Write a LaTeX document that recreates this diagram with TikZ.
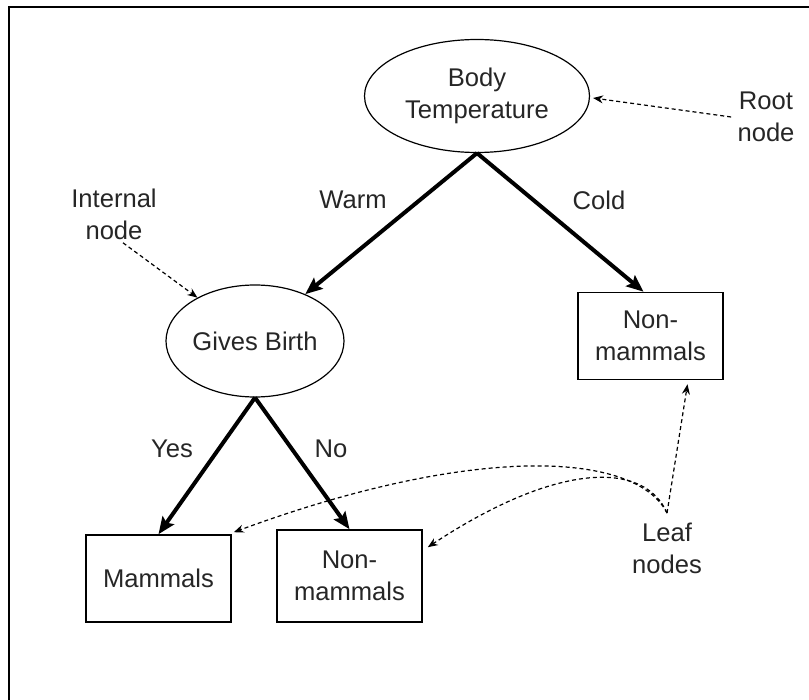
\documentclass[tikz,border=0pt]{standalone}
\usepackage{fontspec}
\setmainfont{Liberation Sans}
\usetikzlibrary{shapes.geometric,arrows.meta,calc}
\begin{document}
\begin{tikzpicture}[x=0.5pt,y=-0.5pt,
  every node/.style={font=\fontsize{12.8}{16}\selectfont, text=black!85, align=center, inner sep=0pt},
  decision/.style={ellipse, draw, line width=0.6pt},
  leafbox/.style={rectangle, draw, line width=0.8pt, minimum width=72.5pt},
  branch/.style={line width=2pt, -{Stealth[length=8.5pt,width=7pt,inset=1.5pt]}},
  pointer/.style={line width=0.6pt, dash pattern=on 2pt off 1.5pt, -{Stealth[length=5pt,width=4pt]}}
]
\useasboundingbox (0,0) rectangle (809,700);
% outer frame
\draw[line width=1pt] (9,720) -- (9,7) -- (840,7);

% tree nodes
\node[decision, minimum width=112.5pt, minimum height=56.5pt] (root) at (477,96) {Body\\Temperature};
\node[decision, minimum width=89pt, minimum height=56pt] (gb) at (255,341) {Gives Birth};
\node[leafbox, minimum height=43.5pt] (rbox) at (650.5,336) {Non-\\mammals};
\node[leafbox, minimum height=43.5pt] (mbox) at (158.5,578.5) {Mammals};
\node[leafbox, minimum height=46pt] (nbox) at (349.5,576) {Non-\\mammals};

% branch labels
\node (warm) at (353,200) {Warm};
\node (cold) at (599,200) {Cold};
\node (yes) at (172,449) {Yes};
\node (no) at (331,449) {No};

% annotations
\node (rootlbl) at (766,117) {Root\\node};
\node (intlbl) at (114,214) {Internal\\node};
\node (leaflbl) at (667,548) {Leaf\\nodes};
\coordinate (leafc) at (667,513);

% branches
\draw[branch] (root.south) -- (gb.43);
\draw[branch] (root.south) -- ($(rbox.north)+(-7,0)$);
\draw[branch] (gb.south) -- (mbox.north);
\draw[branch] (gb.south) -- (nbox.north);

% annotation pointers
\draw[pointer] ($(rootlbl.west)+(-6,0)$) -- ($(root.east)+(3,2)$);
\draw[pointer] ($(intlbl.south)+(9,3)$) -- (gb.143);
\draw[pointer] (leafc) -- ($(rbox.south)+(37,4)$);
\draw[pointer] (leafc) .. controls (635,450) and (470,445) .. ($(mbox.north east)+(2,-2)$);
\draw[pointer] (leafc) .. controls (645,462) and (560,460) .. ($(nbox.north east)+(5,18)$);
\end{tikzpicture}
\end{document}
